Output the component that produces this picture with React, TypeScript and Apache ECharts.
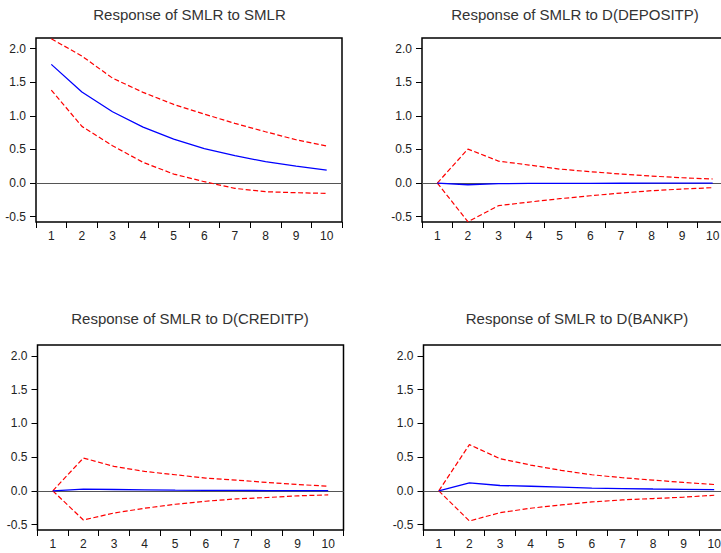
import React, { useEffect, useRef } from "react";
import * as echarts from "echarts";

const periods = ["1", "2", "3", "4", "5", "6", "7", "8", "9", "10"];
const yTickValues = [-0.5, 0, 0.5, 1.0, 1.5, 2.0];

const titles = [
  "Response of SMLR to SMLR",
  "Response of SMLR to D(DEPOSITP)",
  "Response of SMLR to D(CREDITP)",
  "Response of SMLR to D(BANKP)",
];

// SMLR -> SMLR
const smlrResp = [1.767, 1.355, 1.062, 0.834, 0.655, 0.511, 0.407, 0.318, 0.253, 0.194];
const smlrUpper = [2.149, 1.891, 1.563, 1.35, 1.171, 1.027, 0.888, 0.764, 0.645, 0.551];
const smlrLower = [1.385, 0.844, 0.556, 0.308, 0.134, 0.02, -0.079, -0.129, -0.144, -0.154];

// SMLR -> D(DEPOSITP)
const depResp = [0, -0.025, -0.008, -0.006, -0.005, -0.004, -0.003, -0.002, -0.002, -0.001];
const depUpper = [0, 0.506, 0.327, 0.268, 0.208, 0.169, 0.134, 0.104, 0.079, 0.06];
const depLower = [0, -0.576, -0.337, -0.283, -0.233, -0.189, -0.149, -0.114, -0.089, -0.069];

// SMLR -> D(CREDITP)
const credResp = [0, 0.025, 0.02, 0.015, 0.01, 0.008, 0.006, 0.004, 0.003, 0.002];
const credUpper = [0, 0.486, 0.362, 0.288, 0.238, 0.189, 0.159, 0.124, 0.094, 0.069];
const credLower = [0, -0.432, -0.328, -0.258, -0.199, -0.154, -0.119, -0.099, -0.074, -0.06];

// SMLR -> D(BANKP)
const bankResp = [0, 0.119, 0.079, 0.068, 0.055, 0.04, 0.033, 0.027, 0.022, 0.018];
const bankUpper = [0, 0.685, 0.476, 0.382, 0.303, 0.238, 0.194, 0.159, 0.124, 0.094];
const bankLower = [0, -0.447, -0.323, -0.258, -0.208, -0.164, -0.134, -0.114, -0.094, -0.065];

const panels = [
  { resp: smlrResp, upper: smlrUpper, lower: smlrLower },
  { resp: depResp, upper: depUpper, lower: depLower },
  { resp: credResp, upper: credUpper, lower: credLower },
  { resp: bankResp, upper: bankUpper, lower: bankLower },
];

const FONT = '"Liberation Sans", Arial, Helvetica, sans-serif';

const gridRects = [
  { left: 36, top: 38, width: 306, height: 184 },
  { left: 422, top: 38, width: 306, height: 184 },
  { left: 37.5, top: 345, width: 306, height: 185 },
  { left: 423.5, top: 345, width: 306, height: 185 },
];
const titlePos = [
  { x: 189.5, y: 14 },
  { x: 575, y: 14 },
  { x: 190, y: 318 },
  { x: 577, y: 318 },
];

export default function App() {
  const ref = useRef<HTMLDivElement>(null);

  useEffect(() => {
    if (!ref.current) return;
    const chart = echarts.init(ref.current, undefined, { renderer: "svg" });

    const grid = gridRects.map((g) => ({
      ...g,
      show: true,
      borderColor: "#000",
      borderWidth: 1.5,
      backgroundColor: "transparent",
      containLabel: false,
      outerBoundsMode: "none",
    }));

    const xAxis = gridRects.map((_, i) => ({
      type: "category" as const,
      gridIndex: i,
      data: periods,
      boundaryGap: true,
      axisLine: { show: false, onZero: false },
      axisTick: { show: true, interval: 0, length: 6, lineStyle: { color: "#000", width: 1 } },
      axisLabel: { interval: 0, margin: 8, fontSize: 12, color: "#222", fontFamily: FONT },
      splitLine: { show: false },
    }));

    const yAxis = gridRects.map((_, i) => ({
      type: "value" as const,
      gridIndex: i,
      min: -0.58,
      max: 2.16,
      axisLine: { show: false, onZero: false },
      axisTick: {
        show: true,
        length: 6,
        customValues: yTickValues,
        lineStyle: { color: "#000", width: 1 },
      },
      axisLabel: {
        margin: 10,
        fontSize: 12,
        color: "#222",
        fontFamily: FONT,
        customValues: yTickValues,
        formatter: (v: number) => v.toFixed(1),
      },
      splitLine: { show: false },
    }));

    const series: any[] = [];
    panels.forEach((p, i) => {
      series.push({
        type: "line",
        xAxisIndex: i,
        yAxisIndex: i,
        data: p.upper,
        symbol: "none",
        lineStyle: { color: "#ff0000", width: 1.2, type: [5, 2.5] },
        z: 3,
      });
      series.push({
        type: "line",
        xAxisIndex: i,
        yAxisIndex: i,
        data: p.lower,
        symbol: "none",
        lineStyle: { color: "#ff0000", width: 1.2, type: [5, 2.5] },
        z: 3,
      });
      series.push({
        type: "line",
        xAxisIndex: i,
        yAxisIndex: i,
        data: p.resp,
        symbol: "none",
        lineStyle: { color: "#0000ff", width: 1.3 },
        z: 4,
        markLine: {
          silent: true,
          symbol: ["none", "none"],
          label: { show: false },
          lineStyle: { color: "#555", width: 1.2, type: "solid" },
          data: [{ yAxis: 0 }],
          z: 2,
        },
      });
    });

    const graphic = titles.map((t, i) => ({
      type: "text",
      x: titlePos[i].x,
      y: titlePos[i].y,
      style: {
        text: t,
        fill: "#333",
        font: `15px ${FONT}`,
        fontSize: 15,
        fontFamily: FONT,
        align: "center",
        verticalAlign: "middle",
        textAlign: "center",
        textVerticalAlign: "middle",
      },
    }));

    chart.setOption({
      animation: false,
      backgroundColor: "#fff",
      textStyle: { fontFamily: FONT },
      grid,
      xAxis,
      yAxis,
      series,
      graphic,
    });

    return () => chart.dispose();
  }, []);

  return (
    <div
      ref={ref}
      style={{ position: "absolute", left: 0, top: 0, width: 721, height: 553 }}
    />
  );
}
